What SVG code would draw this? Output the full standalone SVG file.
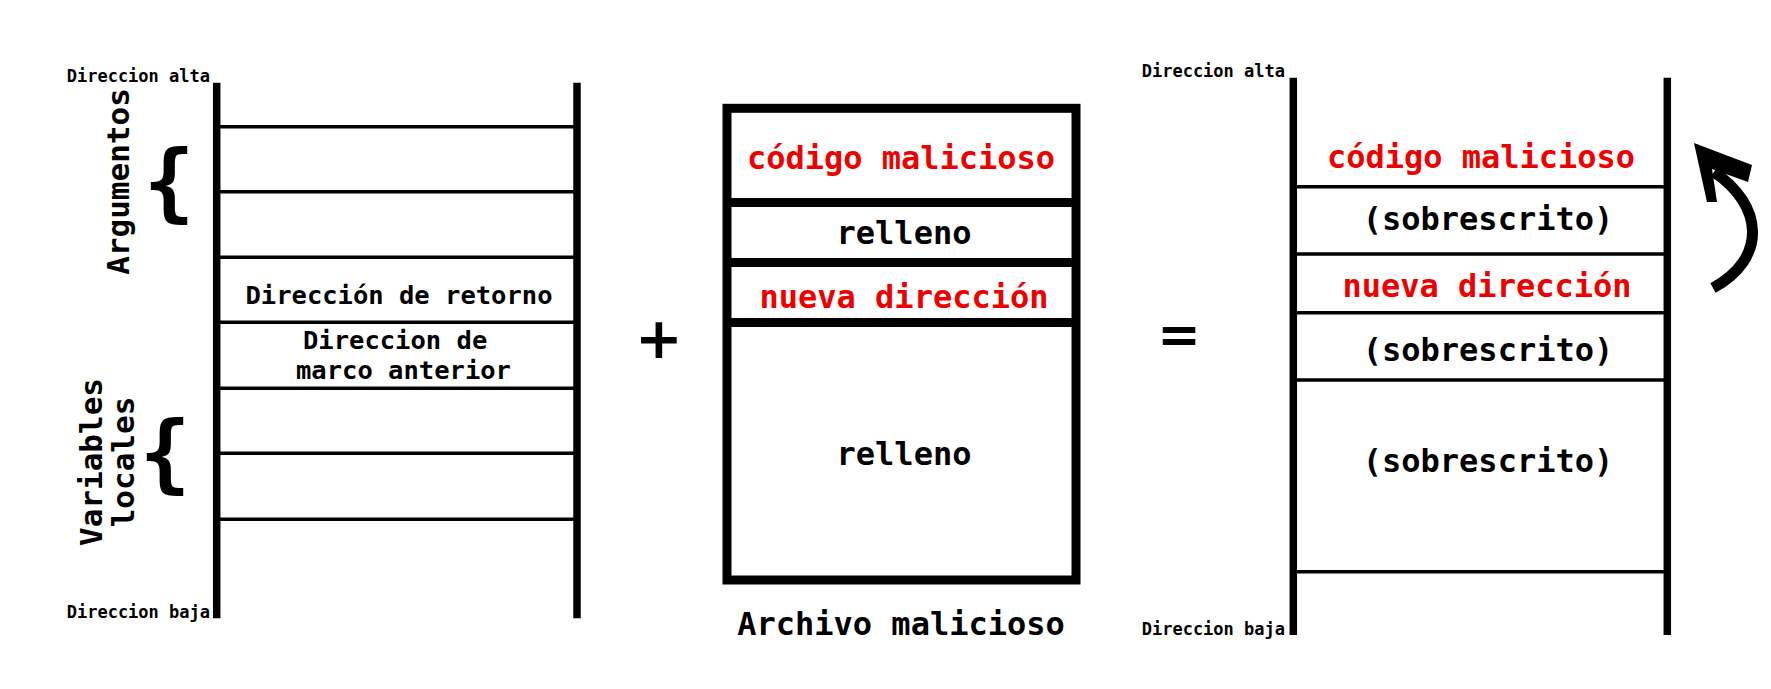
<svg xmlns="http://www.w3.org/2000/svg" width="1771" height="689" viewBox="0 0 1771 689">
<style>
.t{font-family:"DejaVu Sans Mono","Liberation Mono",monospace;font-weight:bold;fill:#000}
.red{fill:#ee0000}
.small{font-size:17px}
.mid{font-size:25.5px}
.big{font-size:32px}
.rot{font-size:31px}
.brace{font-size:85px}
.vline{stroke:#000;stroke-width:7.5;fill:none}
.hline{stroke:#000;stroke-width:3.5;fill:none}
.thick{stroke:#000;stroke-width:9;fill:none}
.op{font-family:"DejaVu Sans",sans-serif;font-weight:bold;fill:#000}
</style>
<rect width="1771" height="689" fill="#fff"/>

<g id="left-stack">
  <line class="vline" x1="216.7" y1="82.7" x2="216.7" y2="618.3"/>
  <line class="vline" x1="577" y1="82.7" x2="577" y2="618.3"/>
  <line class="hline" x1="216.7" y1="126.7" x2="577" y2="126.7"/>
  <line class="hline" x1="216.7" y1="191.7" x2="577" y2="191.7"/>
  <line class="hline" x1="216.7" y1="257.3" x2="577" y2="257.3"/>
  <line class="hline" x1="216.7" y1="322.3" x2="577" y2="322.3"/>
  <line class="hline" x1="216.7" y1="388.3" x2="577" y2="388.3"/>
  <line class="hline" x1="216.7" y1="453.3" x2="577" y2="453.3"/>
  <line class="hline" x1="216.7" y1="519.3" x2="577" y2="519.3"/>
  <text class="t small" x="210" y="81.5" text-anchor="end">Direccion alta</text>
  <text class="t small" x="210" y="618" text-anchor="end">Direccion baja</text>
  <text class="t mid" x="399" y="304" text-anchor="middle">Dirección de retorno</text>
  <text class="t mid" x="303" y="349">Direccion de</text>
  <text class="t mid" x="296" y="379">marco anterior</text>
  <text class="t rot" transform="translate(129,181.5) rotate(-90)" text-anchor="middle">Argumentos</text>
  <text class="t brace" x="169" y="211" text-anchor="middle">{</text>
  <text class="t rot" transform="translate(102,462) rotate(-90)" text-anchor="middle">Variables</text>
  <text class="t rot" transform="translate(134,462) rotate(-90)" text-anchor="middle">locales</text>
  <text class="t brace" x="165" y="482" text-anchor="middle">{</text>
</g>

<g id="plus">
  <text class="op" x="659" y="358" font-size="57" text-anchor="middle">+</text>
</g>

<g id="malicious-file">
  <rect class="thick" x="727" y="108.3" width="349" height="471.7"/>
  <line class="thick" x1="727" y1="202.5" x2="1076" y2="202.5"/>
  <line class="thick" x1="727" y1="262.5" x2="1076" y2="262.5"/>
  <line class="thick" x1="727" y1="322.5" x2="1076" y2="322.5"/>
  <text class="t big red" x="901" y="169.3" text-anchor="middle">código malicioso</text>
  <text class="t big" x="904" y="244" text-anchor="middle">relleno</text>
  <text class="t big red" x="904" y="308.3" text-anchor="middle">nueva dirección</text>
  <text class="t big" x="904" y="465" text-anchor="middle">relleno</text>
  <text class="t big" x="901" y="635" text-anchor="middle">Archivo malicioso</text>
</g>

<g id="equals">
  <text class="op" x="1179" y="352" font-size="52" text-anchor="middle">=</text>
</g>

<g id="right-stack">
  <line class="vline" x1="1293.3" y1="77.7" x2="1293.3" y2="635"/>
  <line class="vline" x1="1667.3" y1="77.7" x2="1667.3" y2="635"/>
  <line class="hline" x1="1293.3" y1="186.7" x2="1667.3" y2="186.7"/>
  <line class="hline" x1="1293.3" y1="254" x2="1667.3" y2="254"/>
  <line class="hline" x1="1293.3" y1="312.7" x2="1667.3" y2="312.7"/>
  <line class="hline" x1="1293.3" y1="380" x2="1667.3" y2="380"/>
  <line class="hline" x1="1293.3" y1="571.7" x2="1667.3" y2="571.7"/>
  <text class="t small" x="1285" y="76.5" text-anchor="end">Direccion alta</text>
  <text class="t small" x="1285" y="635" text-anchor="end">Direccion baja</text>
  <text class="t big red" x="1481" y="168" text-anchor="middle">código malicioso</text>
  <text class="t big" x="1488" y="230" text-anchor="middle">(sobrescrito)</text>
  <text class="t big red" x="1487" y="296.7" text-anchor="middle">nueva dirección</text>
  <text class="t big" x="1488" y="361" text-anchor="middle">(sobrescrito)</text>
  <text class="t big" x="1488" y="471.7" text-anchor="middle">(sobrescrito)</text>
</g>

<g id="connectors">
  <path d="M 1713,288 C 1768,258 1763,205 1714,172" fill="none" stroke="#000" stroke-width="11"/>
  <polygon points="1694,143 1752,165 1748,182 1712,169 1717,202 1707,202" fill="#000"/>
</g>
</svg>
